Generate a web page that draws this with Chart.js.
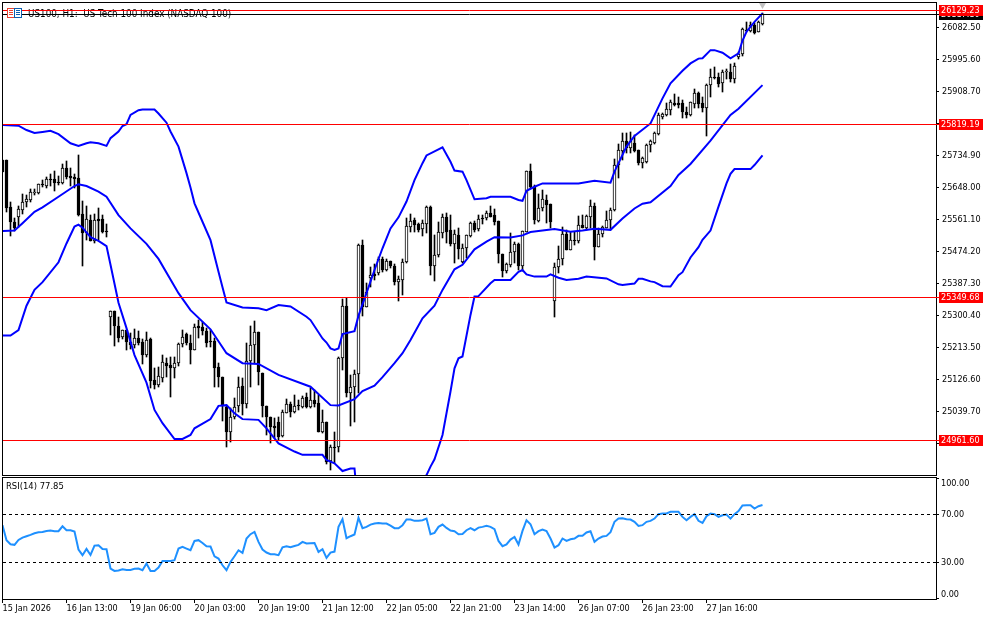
<!DOCTYPE html>
<html lang="en">
<head>
    <meta charset="UTF-8">
    <title>US100, H1</title>
    <script src="https://cdn.jsdelivr.net/npm/chart.js"></script>
    <style>
        body, html {
            margin: 0;
            padding: 0;
            background-color: #ffffff;
        }

        canvas {
            position: absolute;
            left: 0;
        }

        #priceChart { top: 0; }
        #rsiChart { top: 477px; }
    </style>
</head>
<body>
    <canvas id="priceChart" width="994" height="477"></canvas>
    <canvas id="rsiChart" width="994" height="143"></canvas>

    <script>
        // candles, one hour per bar
        const opens = [
            25723,25723,25595,25554,25567,25588,25608,25614,25633,25634,
            25658,25652,25671,25670,25663,25661,25700,25678,25676,25673,
            25575,25525,25559,25504,25562,25562,25530,25295,25312,25272,
            25243,25261,25229,25220,25239,25228,25193,25237,25125,25112,
            25132,25171,25165,25159,25171,25222,25250,25225,25208,25271,
            25270,25258,25231,25231,25160,25133,25053,24983,25024,25055,
            25109,25060,25178,25219,25255,25143,25056,25026,24999,25010,
            24973,25035,25059,25037,25057,25053,25079,25052,25071,25062,
            24985,25010,24904,24944,24942,25184,25326,25089,25105,25141,
            25492,25324,25403,25412,25415,25454,25424,25448,25436,25392,
            25398,25446,25542,25560,25548,25534,25549,25596,25436,25464,
            25525,25567,25533,25495,25519,25446,25483,25517,25551,25534,
            25564,25564,25578,25572,25556,25467,25421,25438,25472,25495,
            25436,25528,25692,25650,25558,25591,25614,25603,25341,25431,
            25453,25522,25478,25505,25504,25546,25539,25569,25598,25487,
            25521,25539,25560,25587,25709,25748,25773,25754,25770,25750,
            25714,25716,25763,25768,25793,25840,25845,25859,25878,25877,
            25877,25854,25845,25875,25904,25877,25863,25925,25947,25947,
            25931,25961,25963,25943,26003,26010,26077,26074,26089,26070,26091
        ];
        const highs = [
            25723,25723,25608,25564,25598,25629,25628,25643,25645,25657,
            25668,25676,25685,25693,25679,25711,25720,25700,25685,25735,
            25610,25598,25573,25575,25591,25573,25549,25312,25312,25297,
            25261,25261,25252,25263,25257,25236,25255,25240,25157,25160,
            25192,25186,25189,25189,25225,25261,25252,25247,25277,25288,
            25284,25266,25261,25238,25171,25134,25057,25048,25076,25133,
            25130,25225,25273,25285,25255,25143,25056,25026,25021,25026,
            25044,25074,25066,25085,25071,25083,25089,25103,25098,25085,
            25044,25012,24949,24985,25187,25345,25349,25139,25152,25494,
            25505,25388,25433,25439,25460,25460,25453,25448,25439,25409,
            25453,25564,25576,25564,25551,25560,25598,25598,25519,25553,
            25575,25578,25573,25533,25537,25494,25518,25553,25557,25573,
            25573,25584,25598,25589,25558,25467,25442,25524,25501,25498,
            25531,25693,25712,25655,25629,25641,25628,25603,25442,25489,
            25540,25533,25528,25528,25571,25572,25573,25614,25607,25537,
            25543,25584,25591,25725,25765,25797,25797,25799,25791,25750,
            25732,25766,25777,25800,25849,25851,25877,25886,25902,25895,
            25886,25866,25881,25916,25906,25895,25928,25969,25976,25960,
            25967,25970,25983,25985,26017,26080,26098,26098,26094,26101,26121
        ];
        const lows = [
            25691,25582,25517,25531,25542,25576,25596,25608,25628,25630,
            25650,25648,25652,25639,25654,25658,25671,25652,25648,25571,
            25436,25505,25503,25496,25505,25524,25513,25247,25218,25228,
            25236,25207,25209,25211,25220,25169,25189,25103,25101,25107,
            25121,25134,25080,25132,25164,25216,25220,25169,25207,25238,
            25247,25216,25214,25107,25105,25015,24944,24958,25019,25039,
            25030,25048,25107,25171,25112,25026,24976,24953,24967,24962,
            24971,25035,25026,25035,25044,25048,25048,25048,25053,24985,
            24980,24897,24881,24901,24931,25152,25080,25001,25012,25089,
            25300,25324,25379,25397,25410,25419,25422,25429,25383,25340,
            25356,25442,25528,25526,25528,25517,25524,25410,25395,25460,
            25510,25496,25489,25442,25453,25442,25456,25513,25528,25531,
            25549,25560,25567,25546,25442,25406,25415,25433,25444,25424,
            25422,25526,25646,25549,25555,25584,25551,25537,25295,25415,
            25438,25477,25477,25492,25496,25537,25533,25537,25451,25486,
            25513,25537,25533,25585,25673,25723,25741,25741,25745,25709,
            25702,25714,25745,25766,25791,25833,25842,25845,25868,25863,
            25838,25838,25842,25863,25863,25854,25789,25895,25942,25920,
            25906,25943,25935,25931,25996,26006,26069,26071,26064,26069,26089
        ];
        const closes = [
            25691,25593,25553,25538,25590,25608,25616,25635,25636,25657,
            25654,25671,25668,25661,25660,25700,25676,25675,25672,25573,
            25525,25562,25504,25559,25558,25527,25528,25312,25272,25240,
            25261,25229,25220,25239,25225,25193,25234,25123,25112,25136,
            25173,25164,25159,25171,25222,25242,25225,25208,25268,25267,
            25257,25226,25228,25159,25133,25055,24983,25024,25053,25105,
            25060,25178,25219,25255,25148,25056,25026,24997,24996,24971,
            25037,25059,25037,25055,25054,25077,25052,25071,25060,24985,
            25010,24903,24944,24942,25184,25326,25089,25107,25141,25492,
            25324,25363,25410,25409,25454,25424,25448,25435,25391,25400,
            25446,25543,25557,25546,25533,25551,25596,25436,25464,25527,
            25567,25528,25494,25521,25480,25483,25518,25551,25533,25563,
            25562,25579,25569,25555,25467,25421,25439,25473,25495,25436,
            25529,25692,25650,25560,25591,25616,25601,25553,25431,25453,
            25522,25478,25505,25503,25545,25539,25571,25597,25487,25521,
            25540,25560,25587,25709,25750,25773,25754,25773,25748,25714,
            25727,25763,25773,25797,25846,25847,25861,25880,25873,25873,
            25854,25845,25879,25904,25875,25863,25926,25947,25945,25929,
            25962,25964,25943,25978,26010,26078,26074,26089,26067,26098,26119
        ];

        // bollinger bands, read at the bars where the line bends
        const upperBars = [0,4,6,8,10,12,14,17,19,21,22,24,26,27,29,30,31,32,34,35,38,39,41,42,44,45,46,47,48,50,52,54,55,56,60,64,66,69,72,76,77,80,81,82,83,84,85,88,89,91,93,95,97,99,101,103,105,106,110,112,113,115,116,118,121,122,127,129,130,131,133,135,140,144,148,152,153,154,156,158,162,165,167,170,172,174,175,177,178,180,182,184,185,186,188,190];
        const upperBand = [25818,25816,25804,25796,25799,25802,25793,25768,25761,25768,25771,25768,25761,25782,25800,25815,25820,25845,25858,25860,25860,25849,25824,25800,25759,25723,25687,25648,25605,25555,25505,25419,25377,25336,25322,25320,25315,25329,25325,25297,25288,25238,25227,25211,25207,25211,25250,25258,25300,25361,25424,25483,25537,25567,25610,25668,25714,25735,25757,25718,25694,25691,25668,25616,25619,25623,25623,25614,25612,25639,25650,25659,25659,25659,25666,25661,25691,25714,25759,25788,25822,25890,25931,25965,25985,25998,25999,26021,26021,26014,25999,26012,26047,26071,26098,26121];
        const middleBars = [0,3,5,8,10,14,18,19,21,24,26,29,32,36,39,44,47,52,56,60,64,69,77,82,84,88,90,93,95,98,100,102,105,108,110,113,115,118,121,123,127,130,132,138,142,145,148,152,155,158,160,162,167,169,172,177,182,184,190];
        const middleBand = [25530,25531,25551,25582,25594,25623,25652,25657,25652,25637,25623,25573,25537,25495,25454,25361,25315,25263,25198,25171,25169,25139,25107,25057,25056,25073,25095,25110,25133,25171,25198,25234,25293,25327,25370,25426,25438,25480,25501,25513,25512,25518,25527,25535,25528,25531,25536,25533,25564,25591,25604,25608,25652,25682,25712,25775,25845,25862,25926];
        const lowerBars = [0,2,4,6,8,10,14,16,18,19,20,22,24,26,27,29,31,33,36,38,40,43,45,47,48,52,54,56,58,60,64,66,69,73,75,80,81,83,85,87,88,89,97,103,105,106,107,108,110,112,113,114,115,117,118,119,122,123,127,129,130,131,133,136,137,139,141,144,146,151,154,155,158,159,160,162,163,165,167,169,170,172,174,175,177,179,181,182,183,187,188,190];
        const lowerBand = [25246,25246,25261,25327,25370,25391,25445,25496,25542,25547,25539,25513,25503,25489,25438,25335,25266,25193,25118,25044,25008,24965,24965,24976,24994,25019,25055,25057,25035,25019,25017,24994,24953,24931,24922,24922,24908,24899,24878,24885,24885,24770,24650,24760,24848,24867,24890,24910,24976,25094,25157,25184,25189,25302,25352,25353,25388,25397,25397,25419,25424,25412,25406,25406,25412,25403,25397,25400,25406,25401,25385,25383,25387,25400,25400,25393,25391,25380,25379,25410,25418,25458,25486,25506,25531,25596,25659,25685,25698,25698,25709,25735];

        // rsi(14), one value per bar
        const rsiValues = [
            61.1,48.6,45.2,44.7,48.8,50.8,51.9,53,54.4,55.2,
            55.5,56.3,56.6,56.1,56.1,60.2,56.9,56.9,55.8,40.8,
            36.1,41.3,36.3,44.1,44.4,41.3,41.1,25,23,23.3,
            24.4,23.8,23.8,24.7,25,23.6,29.1,23,23,25.8,
            31.3,31.3,31.3,31.9,41.6,43,41.6,40.2,48,48.6,
            46.3,43.6,43.3,35.2,33.3,27.7,23.6,30.5,35.2,40.2,
            38,49.9,53.6,55.5,47.2,40.8,38.3,36.9,36.9,36.1,
            42.7,43.6,42.7,43.8,44.7,47.2,45.8,46.1,46.3,38.8,
            41.1,33.9,38.3,39.1,59.7,66.1,50.2,51.9,53.3,67.2,
            58.6,59.7,61.6,62.5,63,62.5,62.5,60.8,58.6,58.6,
            61.1,65.8,65.8,64.7,64.7,65.2,66.6,53.6,54.7,59.7,
            61.6,58.8,56.6,56.1,53.6,53.8,56.9,58.6,56.9,59.1,
            59.7,60.5,59.7,57.7,48,43.6,45,49.1,51.3,45,
            56.3,65.2,61.9,53.6,56.1,57.5,56.3,50,42.5,44.4,
            50,48,49.4,50,52.2,52.2,55,56.1,47.2,50,
            51.6,52.2,55.3,63.9,66.6,66.9,66.1,65.8,63.9,60.5,
            61.1,63.9,64.7,66.6,70.3,70.8,70.8,72.2,72.2,72.2,
            68,65.2,68,70.3,64.7,63,68.6,70.8,70.3,68,
            69.4,70,66.6,70.3,72.8,77.5,77.8,77.8,75,76.9,77.85
        ];

        // axes and levels
        const priceTicks = [26082.5,25995.6,25908.7,25821.8,25734.9,25648,25561.1,25474.2,25387.3,25300.4,25213.5,25126.6,25039.7,24952.8];
        const rsiTicks = [100,70,30,0];
        const rsiLevels = [70,30];
        const redLevels = [26129.23,25819.19,25349.68,24961.6];
        const lastPrice = 26117.1;
        const timeBars = [0,16,32,48,64,80,96,112,128,144,160,176];
        const timeLabels = ['15 Jan 2026','16 Jan 13:00','19 Jan 06:00','20 Jan 03:00','20 Jan 19:00','21 Jan 12:00','22 Jan 05:00','22 Jan 21:00','23 Jan 14:00','26 Jan 07:00','26 Jan 23:00','27 Jan 16:00'];
        const titleText = 'US100, H1:  US Tech 100 Index (NASDAQ 100)';
        const rsiTitle = 'RSI(14) 77.85';

        const axisFont = '"DejaVu Sans Condensed", "Liberation Sans", sans-serif';
        const fontSize = 9;
        // 4px per bar, first bar sits right on the left border
        const barMin = 0.125;
        const barMax = 233.375;
        const priceMin = 24867.27;
        const priceMax = 26149.03;

        function pairs(bars, values) {
            return bars.map((bar, i) => ({ x: bar, y: values[i] }));
        }

        function levelLine(value, color, extra) {
            return Object.assign({
                type: 'line',
                data: [{ x: barMin, y: value }, { x: barMax, y: value }],
                borderColor: color,
                borderWidth: 1,
                pointRadius: 0,
                snap: true,
                order: 0
            }, extra);
        }

        function bandLine(bars, values) {
            return {
                type: 'line',
                data: pairs(bars, values),
                borderColor: '#0000ff',
                borderWidth: 2,
                pointRadius: 0,
                tension: 0,
                order: 1
            };
        }

        // no extra room for the first and last tick label, the plot must stay put
        function fitAxis(scale) {
            scale.paddingTop = 0;
            scale.paddingBottom = 0;
            scale.paddingLeft = 0;
            scale.paddingRight = 0;
        }

        // keep the marks on whole pixels like the terminal draws them
        const snapPlugin = {
            id: 'snapPlugin',
            beforeDatasetsDraw(chart) {
                chart.data.datasets.forEach((ds, i) => {
                    const meta = chart.getDatasetMeta(i);
                    if (meta.type === 'bar') {
                        meta.data.forEach(el => {
                            el.y = Math.round(el.y);
                            el.base = Math.round(el.base);
                            if (el.y === el.base) el.base += 1;
                        });
                    } else if (ds.snap) {
                        meta.data.forEach(el => { el.y = Math.floor(el.y) + 0.5; });
                    }
                });
            }
        };

        const priceDecor = {
            id: 'priceDecor',
            beforeDatasetsDraw(chart) {
                const ctx = chart.ctx;
                ctx.save();
                ctx.fillStyle = '#000';
                ctx.font = '9.8px ' + axisFont;
                ctx.textBaseline = 'middle';
                ctx.fillText(titleText, 28, 14.5);
                ctx.restore();
            },
            afterDraw(chart) {
                const ctx = chart.ctx;
                const y = chart.scales.y;
                ctx.save();
                ctx.strokeStyle = '#000';
                ctx.lineWidth = 1;
                ctx.strokeRect(2.5, 2.5, 934, 473);

                // little chart icon next to the title
                ctx.fillStyle = '#fff';
                ctx.fillRect(7, 8, 15, 10);
                ctx.strokeStyle = '#e8402e';
                ctx.strokeRect(7.5, 8.5, 7, 9);
                ctx.strokeStyle = '#0a5fb0';
                ctx.strokeRect(14.5, 8.5, 7, 9);
                ctx.fillStyle = '#e8402e';
                ctx.fillRect(9, 10, 4, 1);
                ctx.fillRect(9, 12, 4, 1);
                ctx.fillRect(9, 14, 4, 1);
                ctx.fillStyle = '#0a5fb0';
                ctx.fillRect(16, 10, 4, 1);
                ctx.fillRect(16, 12, 4, 1);
                ctx.fillRect(16, 14, 4, 1);

                // price tags on the right, last price goes under the red one
                ctx.font = fontSize + 'px ' + axisFont;
                ctx.textBaseline = 'middle';
                const tag = (value, bg, fg) => {
                    const py = Math.floor(y.getPixelForValue(value)) + 0.5;
                    ctx.fillStyle = bg;
                    ctx.fillRect(936, py - 0.5, 3, 1);
                    ctx.fillRect(939, py - 5.5, 44, 11);
                    ctx.fillStyle = fg;
                    ctx.fillText(value.toFixed(2), 941, py + 0.5);
                };
                tag(lastPrice, '#000000', '#ffffff');
                redLevels.forEach(v => tag(v, '#ff0000', '#ffffff'));
                ctx.restore();
            }
        };

        const rsiDecor = {
            id: 'rsiDecor',
            afterDraw(chart) {
                const ctx = chart.ctx;
                const y = chart.scales.y;
                ctx.save();
                ctx.strokeStyle = '#000';
                ctx.lineWidth = 1;
                ctx.strokeRect(2.5, 0.5, 934, 122);
                ctx.fillStyle = '#000';
                ctx.font = '9.4px ' + axisFont;
                ctx.textBaseline = 'middle';
                ctx.fillText(rsiTitle, 6, 10);
                // top and bottom labels sit inside the panel
                ctx.font = fontSize + 'px ' + axisFont;
                rsiTicks.forEach(v => {
                    let shift = 0;
                    if (v === 100) shift = 5;
                    if (v === 0) shift = -4;
                    ctx.fillText(v.toFixed(2), 941, y.getPixelForValue(v) + shift);
                });
                ctx.restore();
            }
        };

        new Chart(document.getElementById('priceChart').getContext('2d'), {
            type: 'bar',
            data: {
                datasets: [
                    ...redLevels.map(v => levelLine(v, '#ff0000')),
                    levelLine(lastPrice, '#000000'),
                    {
                        type: 'line',
                        data: [{ x: 190, y: 26143.6 }],
                        pointStyle: 'triangle',
                        pointRotation: 180,
                        pointRadius: 4,
                        pointBackgroundColor: '#c0c0c0',
                        pointBorderWidth: 0,
                        showLine: false,
                        order: 0
                    },
                    bandLine(upperBars, upperBand),
                    bandLine(middleBars, middleBand),
                    bandLine(lowerBars, lowerBand),
                    {
                        // candle bodies
                        data: opens.map((o, i) => ({ x: i, y: [o, closes[i]] })),
                        backgroundColor: opens.map((o, i) => closes[i] < o ? '#000000' : '#ffffff'),
                        borderColor: '#000000',
                        borderWidth: 1,
                        borderSkipped: false,
                        barThickness: 3,
                        grouped: false,
                        order: 2
                    },
                    {
                        // wicks
                        data: lows.map((l, i) => ({ x: i, y: [l, highs[i]] })),
                        backgroundColor: '#000000',
                        borderWidth: 0,
                        barThickness: 1,
                        grouped: false,
                        order: 3
                    }
                ]
            },
            options: {
                responsive: false,
                animation: false,
                layout: { autoPadding: false, padding: { left: 3, top: 3, right: 0, bottom: 2 } },
                plugins: { legend: { display: false }, tooltip: { enabled: false } },
                scales: {
                    x: {
                        type: 'linear',
                        display: false,
                        offset: false,
                        min: barMin,
                        max: barMax
                    },
                    y: {
                        position: 'right',
                        min: priceMin,
                        max: priceMax,
                        afterFit: scale => { scale.width = 58; fitAxis(scale); },
                        afterBuildTicks: scale => { scale.ticks = priceTicks.map(v => ({ value: v })); },
                        grid: { drawOnChartArea: false, drawTicks: true, tickLength: 3, color: '#000' },
                        border: { display: false },
                        ticks: {
                            autoSkip: false,
                            padding: 3,
                            color: '#000',
                            font: { family: axisFont, size: fontSize },
                            callback: v => Number(v).toFixed(2)
                        }
                    }
                }
            },
            plugins: [snapPlugin, priceDecor]
        });

        new Chart(document.getElementById('rsiChart').getContext('2d'), {
            type: 'line',
            data: {
                datasets: [
                    ...rsiLevels.map(v => levelLine(v, '#000000', { borderDash: [3, 3] })),
                    {
                        data: rsiValues.map((v, i) => ({ x: i, y: v })),
                        borderColor: '#1e90ff',
                        borderWidth: 2,
                        pointRadius: 0,
                        tension: 0,
                        order: 1
                    }
                ]
            },
            options: {
                responsive: false,
                animation: false,
                layout: { autoPadding: false, padding: { left: 3, top: 1, right: 0, bottom: 0 } },
                plugins: { legend: { display: false }, tooltip: { enabled: false } },
                scales: {
                    x: {
                        type: 'linear',
                        offset: false,
                        min: barMin,
                        max: barMax,
                        afterFit: scale => { scale.height = 21; fitAxis(scale); },
                        afterBuildTicks: scale => { scale.ticks = timeBars.map(v => ({ value: v })); },
                        grid: { drawOnChartArea: false, drawTicks: true, tickLength: 4, color: '#000' },
                        border: { display: false },
                        ticks: {
                            autoSkip: false,
                            maxRotation: 0,
                            align: 'start',
                            padding: 0,
                            color: '#000',
                            font: { family: axisFont, size: fontSize },
                            callback: v => timeLabels[timeBars.indexOf(v)]
                        }
                    },
                    y: {
                        position: 'right',
                        min: -0.42,
                        max: 100.42,
                        afterFit: scale => { scale.width = 58; fitAxis(scale); },
                        afterBuildTicks: scale => { scale.ticks = rsiTicks.map(v => ({ value: v })); },
                        grid: { drawOnChartArea: false, drawTicks: true, tickLength: 3, color: '#000' },
                        border: { display: false },
                        ticks: { display: false }
                    }
                }
            },
            plugins: [snapPlugin, rsiDecor]
        });
    </script>
</body>
</html>
